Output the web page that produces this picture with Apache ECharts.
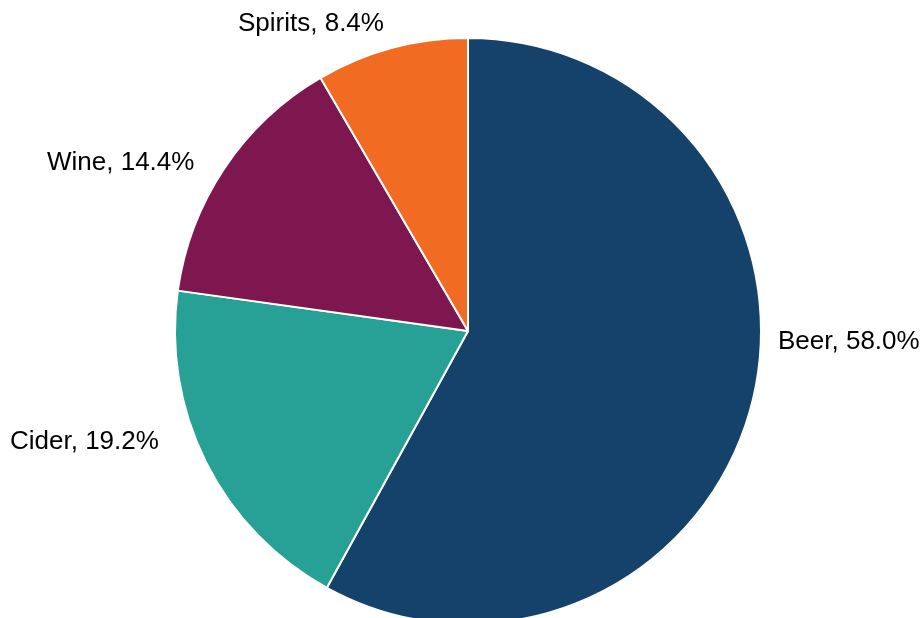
<!DOCTYPE html>
<html>
<head>
<meta charset="utf-8">
<script src="https://cdn.jsdelivr.net/npm/echarts@6/dist/echarts.min.js"></script>
<style>
  html, body { margin: 0; padding: 0; background: #ffffff; }
  #chart { width: 923px; height: 618px; }
</style>
</head>
<body>
<div id="chart"></div>
<script>
// Share of alcohol consumption by drink type
const categories = ['Beer', 'Cider', 'Wine', 'Spirits'];
const shares = [58.0, 19.2, 14.4, 8.4];
const colors = ['#14426B', '#27A196', '#7E164F', '#F26B23'];

// Where each outside label sits: [x, y, horizontal alignment]
const labelSpots = {
  Beer:    [778, 342, 'left'],
  Cider:   [10, 442, 'left'],
  Wine:    [47, 163, 'left'],
  Spirits: [238, 24, 'left']
};

const chart = echarts.init(document.getElementById('chart'), null, { renderer: 'canvas' });

chart.setOption({
  animation: false,
  backgroundColor: '#ffffff',
  series: [{
    type: 'pie',
    center: [468, 331],
    radius: [0, 293],
    startAngle: 90,
    clockwise: true,
    avoidLabelOverlap: false,
    itemStyle: { borderColor: '#ffffff', borderWidth: 2 },
    label: {
      show: true,
      position: 'outside',
      formatter: p => p.name + ', ' + p.value.toFixed(1) + '%',
      fontFamily: 'Liberation Sans, Arial, sans-serif',
      fontSize: 26,
      color: '#000000'
    },
    labelLine: { show: false },
    labelLayout: function (params) {
      const name = categories[params.dataIndex];
      const s = labelSpots[name];
      return { x: s[0], y: s[1], align: s[2], verticalAlign: 'middle' };
    },
    data: categories.map((c, i) => ({
      name: c,
      value: shares[i],
      itemStyle: { color: colors[i] }
    }))
  }]
});
</script>
</body>
</html>
